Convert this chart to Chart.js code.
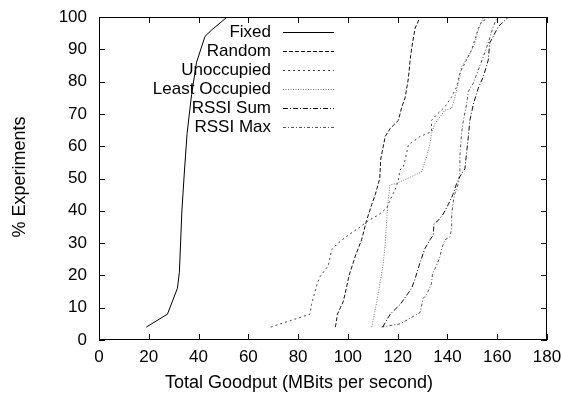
<!DOCTYPE html>
<html><head><meta charset="utf-8">
<script src="https://cdn.jsdelivr.net/npm/chart.js@4"></script>
<style>html,body{margin:0;padding:0;background:#fff}#c{display:block}</style>
</head><body>
<canvas id="c" width="562" height="398"></canvas>
<script>
const seriesNames = ["Fixed","Random","Unoccupied","Least Occupied","RSSI Sum","RSSI Max"];
const xTicks = [0,20,40,60,80,100,120,140,160,180];
const yTicks = [0,10,20,30,40,50,60,70,80,90,100];
const xTitle = 'Total Goodput (MBits per second)';
const yTitle = '% Experiments';
const fixedPts = [[19,4],[27.5,8],[31.5,16],[32.3,21],[33.3,40],[34.3,52],[35.4,64],[37.2,76],[39.2,86],[42.6,94],[45.3,96],[51.5,100]];
const randomPts = [[95,4],[95.8,8],[97,10],[98.2,12],[100.5,20],[103,26],[105.5,31],[107.5,37],[109.6,42],[111,45],[112.8,50],[113.2,56],[115,63],[117,65.5],[120.3,68],[121.6,72],[123,75],[124.3,81],[125.2,88],[126,92],[127,96.5],[129,100]];
const unoccupiedPts = [[69,4],[84.8,8],[85.4,11],[87.5,17],[88.8,19.6],[92.1,23],[93.5,28],[96.1,30],[100.2,32.5],[104.9,35],[107.5,36.6],[112.2,38.7],[115.6,40.8],[116.9,43.3],[118.9,46.4],[120.3,49.5],[120.9,52.6],[122.3,53.7],[123.6,57.8],[124.3,60.4],[129,63],[133.6,64.5],[133.6,68],[135.6,69.7],[139,72.2],[141.7,75.3],[143.7,78.4],[145,82.6],[147,85.7],[149.7,89.8],[151,92.9],[152.4,96.5],[153.7,98.5],[157,100]];
const leastPts = [[109.6,4],[111.5,11.4],[112.9,17.5],[114.2,23.7],[114.9,29],[115.6,37],[116.2,43.3],[116.9,48],[119.6,48.5],[129.6,52],[131.6,56.7],[133,60.9],[133.6,64],[135,67],[139,71.2],[141.7,71.7],[143,75.3],[145,81.5],[145.7,84.6],[149,88.7],[151,91.8],[152.4,96],[154.4,100]];
const rssiSumPts = [[114,4],[117,8],[121,11],[125.6,16],[127,19],[129,24],[131,28.4],[133,31],[134.3,32.5],[134.6,36],[136.3,37],[138.3,39],[139.7,41],[141,43],[142.4,45.4],[143.7,48.5],[145,50.6],[147,53],[147.7,58],[148.4,63],[149,68],[150.4,73],[152.4,78],[154.4,81.5],[156.4,86.7],[157,92],[158.4,94],[160.4,97],[164.5,100]];
const rssiMaxPts = [[113.5,4],[121,5],[129,8.5],[130.3,12.9],[131.6,14],[133.6,17.5],[134,20.6],[135.6,23],[137,25.8],[137.7,28.4],[139,31],[141,32],[141.7,34.6],[141.7,39],[142.4,43],[143,45.4],[144.4,48.5],[145,52],[145,57],[145.7,64],[146.4,68],[147.7,73],[148.4,77],[150.4,79.5],[152.4,83.6],[154.4,87.7],[156.4,92],[158.4,97],[160,100]];

const allPts = [fixedPts,randomPts,unoccupiedPts,leastPts,rssiSumPts,rssiMaxPts];
const styles = [
  {c:'#000', d:[]},
  {c:'#111', d:[4,2]},
  {c:'#444', d:[2,3]},
  {c:'#777', d:[1,1.5]},
  {c:'#111', d:[5,2,1,2]},
  {c:'#555', d:[3,2,1,2]}
];
const FONT = 'Liberation Sans, Arial, Helvetica, sans-serif';
const FS = 17;

const datasets = allPts.map((p,i)=>({
  label: seriesNames[i],
  data: p.map(q=>({x:q[0],y:q[1]})),
  borderColor: styles[i].c,
  borderDash: styles[i].d,
  borderWidth: 1,
  pointRadius: 0,
  fill: false,
  tension: 0
}));

const framePlugin = {
  id:'frame',
  afterDraw(chart){
    const ctx = chart.ctx, a = chart.chartArea;
    const xs = chart.scales.x, ys = chart.scales.y;
    ctx.save();
    ctx.strokeStyle = '#000'; ctx.lineWidth = 1; ctx.setLineDash([]);
    ctx.strokeRect(a.left+0.5, a.top+0.5, a.right-a.left-1, a.bottom-a.top-1);
    ctx.beginPath();
    xTicks.forEach(v=>{
      const px = Math.round(xs.getPixelForValue(v))+0.5;
      ctx.moveTo(px,a.bottom); ctx.lineTo(px,a.bottom-6);
      ctx.moveTo(px,a.top); ctx.lineTo(px,a.top+6);
    });
    yTicks.forEach(v=>{
      const py = Math.round(ys.getPixelForValue(v))+0.5;
      ctx.moveTo(a.left,py); ctx.lineTo(a.left+6,py);
      ctx.moveTo(a.right,py); ctx.lineTo(a.right-6,py);
    });
    ctx.stroke();
    // axis titles
    ctx.fillStyle = '#000';
    ctx.font = '18px ' + FONT;
    ctx.textAlign = 'center'; ctx.textBaseline = 'middle';
    ctx.fillText(xTitle, 299, 383);
    ctx.save();
    ctx.translate(20, 177);
    ctx.rotate(-Math.PI/2);
    ctx.fillText(yTitle, 0, 0);
    ctx.restore();
    // legend
    ctx.font = FS + 'px ' + FONT;
    ctx.textAlign = 'right'; ctx.textBaseline = 'middle';
    seriesNames.forEach((n,i)=>{
      const y = 32 + i*19;
      ctx.fillText(n, 271, y);
      ctx.beginPath();
      ctx.strokeStyle = styles[i].c;
      ctx.setLineDash(styles[i].d);
      ctx.moveTo(283, y+0.5); ctx.lineTo(334, y+0.5);
      ctx.stroke();
    });
    ctx.restore();
  }
};

new Chart(document.getElementById('c'), {
  type:'line',
  data:{datasets},
  options:{
    responsive:false, animation:false,
    layout:{padding:{top:17,right:15,left:0,bottom:0}},
    plugins:{legend:{display:false}, tooltip:{enabled:false}},
    scales:{
      x:{type:'linear', min:0, max:180,
        afterBuildTicks(s){ s.ticks = xTicks.map(v=>({value:v})); },
        afterFit(s){ s.height = 58; s.paddingRight = 0; s.paddingLeft = 0; },
        grid:{display:false, drawTicks:false},
        border:{display:false},
        ticks:{padding:7, color:'#000', font:{family:FONT,size:FS}, maxRotation:0, autoSkip:false},
        title:{display:false}
      },
      y:{type:'linear', min:0, max:100,
        afterBuildTicks(s){ s.ticks = yTicks.map(v=>({value:v})); },
        afterFit(s){ s.width = 99; s.paddingTop = 0; s.paddingBottom = 0; },
        grid:{display:false, drawTicks:false},
        border:{display:false},
        ticks:{padding:12, color:'#000', font:{family:FONT,size:FS}, autoSkip:false},
        title:{display:false}
      }
    }
  },
  plugins:[framePlugin]
});
</script>
</body></html>
